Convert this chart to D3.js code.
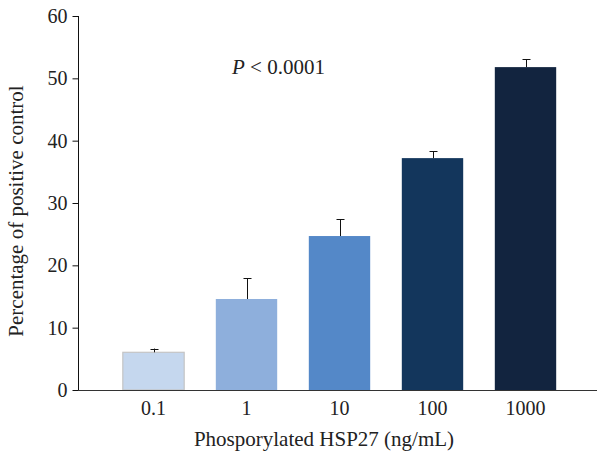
<!DOCTYPE html>
<html><head><meta charset="utf-8">
<script src="https://cdn.jsdelivr.net/npm/d3@7"></script>
<style>body{margin:0;background:#fff;} svg{display:block;}</style>
</head><body>
<svg id="c" width="597" height="455"></svg>
<script>
const categories = ["0.1", "1", "10", "100", "1000"];
const values = [6.05, 14.6, 24.7, 37.2, 51.8];
const errors = [0.6, 3.3, 2.7, 1.1, 1.25];
const colors = ["#c5d7ee", "#8eafdc", "#5488c8", "#13365c", "#12243f"];
const yTicks = [0, 10, 20, 30, 40, 50, 60];

const svg = d3.select("#c");
const font = "'Liberation Serif', 'DejaVu Serif', serif";
const y = d3.scaleLinear().domain([0, 60]).range([390, 16]);
const x = d3.scaleBand().domain(categories).range([107, 572]).paddingInner(0.34).paddingOuter(0.17);

// bars
svg.selectAll("rect.bar").data(values).enter().append("rect")
  .attr("x", (d, i) => x(categories[i]))
  .attr("y", d => y(d))
  .attr("width", x.bandwidth())
  .attr("height", d => y(0) - y(d))
  .attr("fill", (d, i) => colors[i])
  .attr("stroke", (d, i) => i === 0 ? "#c4c4c4" : "none")
  .attr("stroke-width", 1.2);

// error bars
const eg = svg.append("g").attr("stroke", "#111").attr("stroke-width", 1);
values.forEach((v, i) => {
  const cx = Math.round(x(categories[i]) + x.bandwidth() / 2) + 0.5;
  eg.append("line").attr("x1", cx).attr("x2", cx).attr("y1", y(v)).attr("y2", y(v + errors[i]));
  eg.append("line").attr("x1", cx - 4).attr("x2", cx + 4).attr("y1", Math.round(y(v + errors[i])) + 0.5).attr("y2", Math.round(y(v + errors[i])) + 0.5);
});

// y axis
const ya = svg.append("g").attr("transform", "translate(78.5,0)")
  .call(d3.axisLeft(y).tickValues(yTicks).tickSize(6).tickPadding(5).tickFormat(d3.format("d")));
ya.selectAll("path.domain").attr("d", `M0,${y(0)}V${y(60)}`).attr("stroke", "#111");
ya.selectAll(".tick line").attr("stroke", "#111");
ya.selectAll("text").attr("font-family", font).attr("font-size", 20).attr("fill", "#222");

// x axis
const xa = svg.append("g").attr("transform", `translate(0,${y(0) + 0.5})`)
  .call(d3.axisBottom(x).tickSize(0).tickPadding(10));
xa.select("path.domain").attr("d", "M78,0H597").attr("stroke", "#333");
xa.selectAll("text").attr("font-family", font).attr("font-size", 20).attr("fill", "#222");

// axis titles
svg.append("text").attr("x", 324).attr("y", 446).attr("text-anchor", "middle")
  .attr("font-family", font).attr("font-size", 21).attr("fill", "#222")
  .text("Phosporylated HSP27 (ng/mL)");
svg.append("text").attr("transform", "translate(23,211) rotate(-90)").attr("text-anchor", "middle")
  .attr("font-family", font).attr("font-size", 21).attr("fill", "#222")
  .text("Percentage of positive control");

// P value
const pt = svg.append("text").attr("x", 232).attr("y", 74)
  .attr("font-family", font).attr("font-size", 21).attr("fill", "#222");
pt.append("tspan").attr("font-style", "italic").text("P");
pt.append("tspan").text(" < 0.0001");
</script>
</body></html>
